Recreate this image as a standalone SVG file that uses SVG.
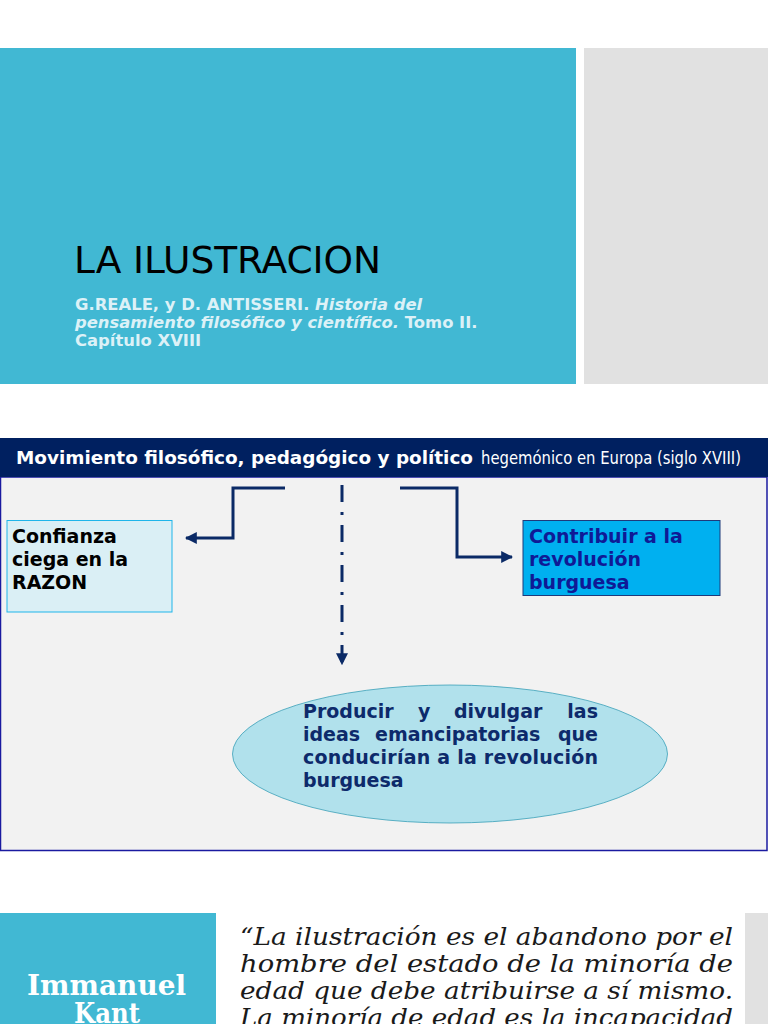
<svg xmlns="http://www.w3.org/2000/svg" width="768" height="1024" viewBox="0 0 768 1024">
<style>
.sans{font-family:"DejaVu Sans","Liberation Sans",sans-serif}
.b{font-weight:bold}
.conn{fill:none;stroke:#0b2a66;stroke-width:3}
.lbl{font-family:"DejaVu Sans","Liberation Sans",sans-serif;font-weight:bold;font-size:19px}
.quote{font-family:"DejaVu Serif","Liberation Serif",serif;font-style:italic;font-size:25px;fill:#1a1a1a}
.kant{font-family:"DejaVu Serif","Liberation Serif",serif;font-weight:bold;font-size:27px;fill:#fff}
</style>
<defs>
<marker id="ah" viewBox="0 0 10 10" refX="9" refY="5" markerWidth="4" markerHeight="4" orient="auto" markerUnits="strokeWidth">
<path d="M0,0 L10,5 L0,10 z" fill="#0b2a66"/>
</marker>
</defs>
<rect width="768" height="1024" fill="#ffffff"/>

<g id="title-slide">
<rect x="0" y="48" width="576" height="336" fill="#41b8d3"/>
<rect x="584" y="48" width="184" height="336" fill="#e1e1e1"/>
<text x="74" y="273" class="sans" font-size="37.5" fill="#000" textLength="307" lengthAdjust="spacing">LA ILUSTRACION</text>
<g class="sans b" font-size="16.4" fill="#dcf1f7">
<text x="75" y="310">G.REALE, y D. ANTISSERI. <tspan font-style="italic">Historia del</tspan></text>
<text x="75" y="328"><tspan font-style="italic">pensamiento filosófico y científico.</tspan> Tomo II.</text>
<text x="75" y="346">Capítulo XVIII</text>
</g>
</g>

<g id="panel">
<rect x="0.5" y="477" width="766.5" height="373.5" fill="#f2f2f2" stroke="#1a1aa0" stroke-width="1.5"/>
<rect x="0" y="438" width="768" height="39" fill="#002060"/>
<text x="16" y="464" class="sans b" font-size="18.4" fill="#fff" textLength="457" lengthAdjust="spacingAndGlyphs">Movimiento filosófico, pedagógico y político</text>
<text x="481" y="464" class="sans" font-size="17" fill="#fff" textLength="260" lengthAdjust="spacingAndGlyphs">hegemónico en Europa (siglo XVIII)</text>
</g>

<g id="connectors">
<path class="conn" d="M285,488 H233 V538 H186" marker-end="url(#ah)"/>
<path class="conn" d="M400,488 H457 V557 H512" marker-end="url(#ah)"/>
<path class="conn" d="M342,485 V664" stroke-dasharray="17,10,3,10" marker-end="url(#ah)"/>
</g>

<g id="node-razon">
<rect x="7" y="520.5" width="165" height="91.5" fill="#daeff5" stroke="#1fb5ea" stroke-width="1"/>
<text class="lbl" fill="#000"><tspan x="12" y="543">Confianza</tspan><tspan x="12" y="566">ciega en la</tspan><tspan x="12" y="589">RAZON</tspan></text>
</g>

<g id="node-revolucion">
<rect x="523" y="520.5" width="197" height="75" fill="#00b0f0" stroke="#1f3a7a" stroke-width="1"/>
<text class="lbl" fill="#0f1a96"><tspan x="529" y="543">Contribuir a la</tspan><tspan x="529" y="566">revolución</tspan><tspan x="529" y="589">burguesa</tspan></text>
</g>

<g id="node-ideas">
<ellipse cx="450" cy="754" rx="217.5" ry="69" fill="#b1e1ec" stroke="#3aa0b8" stroke-width="0.8"/>
<text class="lbl" fill="#0d2a6b">
<tspan x="303" y="718">Producir</tspan><tspan x="418" y="718">y</tspan><tspan x="454" y="718">divulgar</tspan><tspan x="598" y="718" text-anchor="end">las</tspan>
</text>
<text class="lbl" fill="#0d2a6b">
<tspan x="303" y="741">ideas</tspan><tspan x="375" y="741">emancipatorias</tspan><tspan x="598" y="741" text-anchor="end">que</tspan>
</text>
<text class="lbl" fill="#0d2a6b" x="303" y="764" textLength="295" lengthAdjust="spacing">conducirían a la revolución</text>
<text class="lbl" fill="#0d2a6b" x="303" y="787">burguesa</text>
</g>

<g id="kant-slide">
<rect x="0" y="913" width="216" height="111" fill="#41b8d3"/>
<rect x="745" y="913" width="23" height="111" fill="#e1e1e1"/>
<text class="kant" x="27" y="995" textLength="159" lengthAdjust="spacingAndGlyphs">Immanuel</text>
<text class="kant" x="107" y="1023" text-anchor="middle" textLength="66" lengthAdjust="spacingAndGlyphs">Kant</text>
<text class="quote" x="240" y="945" textLength="493" lengthAdjust="spacingAndGlyphs">“La ilustración es el abandono por el</text>
<text class="quote" x="240" y="972" textLength="493" lengthAdjust="spacingAndGlyphs">hombre del estado de la minoría de</text>
<text class="quote" x="240" y="999" textLength="493" lengthAdjust="spacingAndGlyphs">edad que debe atribuirse a sí mismo.</text>
<text class="quote" x="240" y="1026" textLength="493" lengthAdjust="spacingAndGlyphs">La minoría de edad es la incapacidad</text>
</g>
</svg>
